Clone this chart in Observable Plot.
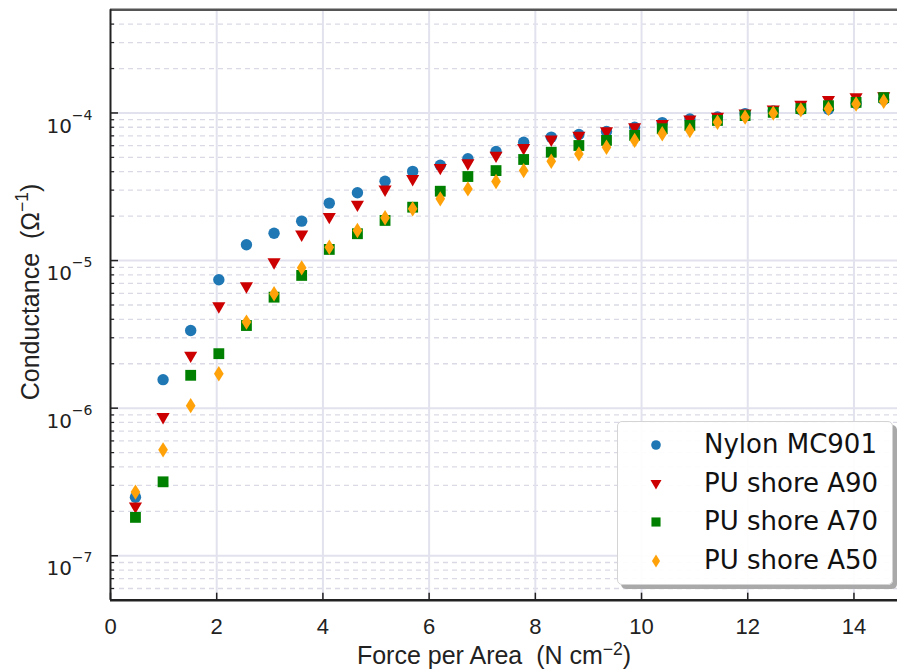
<!DOCTYPE html>
<html><head><meta charset="utf-8">
<script src="https://cdn.jsdelivr.net/npm/d3@7"></script>
<script src="https://cdn.jsdelivr.net/npm/@observablehq/plot@0.6"></script>
<style>
body{margin:0;background:#fff;}
#wrap{position:relative;width:897px;height:672px;overflow:hidden;}
.legend{position:absolute;left:617px;top:421px;width:276px;height:164px;box-sizing:border-box;background:rgba(255,255,255,0.92);border:1px solid #d4d4d4;border-radius:5px;box-shadow:4px 4px 0 #a9a9a9;font-family:"DejaVu Sans";font-size:26px;color:#111;}
.legend .row{position:absolute;left:0;height:40px;width:100%;}
.legend .row svg{position:absolute;left:26px;top:8px;}
.legend .row span{position:absolute;left:86px;top:4px;line-height:30px;white-space:pre;}
</style></head><body><div id="wrap"></div>
<script>
// ---- data ----
const force = [0.47, 0.99, 1.51, 2.04, 2.56, 3.08, 3.60, 4.12, 4.65, 5.17, 5.69, 6.21, 6.73, 7.26, 7.78, 8.30, 8.82, 9.34, 9.87, 10.39, 10.91, 11.43, 11.95, 12.48, 13.00, 13.52, 14.04, 14.56];
const nylon = [2.49e-7, 1.56e-6, 3.36e-6, 7.41e-6, 1.28e-5, 1.53e-5, 1.85e-5, 2.45e-5, 2.88e-5, 3.45e-5, 4.02e-5, 4.43e-5, 4.9e-5, 5.48e-5, 6.34e-5, 6.86e-5, 7.15e-5, 7.5e-5, 8.0e-5, 8.6e-5, 9.1e-5, 9.4e-5, 9.9e-5, 1.03e-4, 1.05e-4, 1.06e-4, 1.16e-4, 1.23e-4];
const pu90 = [2.13e-7, 8.6e-7, 2.24e-6, 4.83e-6, 6.6e-6, 9.6e-6, 1.48e-5, 1.95e-5, 2.36e-5, 2.99e-5, 3.52e-5, 4.19e-5, 4.5e-5, 5.07e-5, 5.71e-5, 6.52e-5, 6.93e-5, 7.41e-5, 7.9e-5, 8.3e-5, 8.9e-5, 9.3e-5, 9.8e-5, 1.04e-4, 1.12e-4, 1.21e-4, 1.26e-4, 1.28e-4];
const pu70 = [1.82e-7, 3.17e-7, 1.67e-6, 2.34e-6, 3.63e-6, 5.65e-6, 7.93e-6, 1.19e-5, 1.52e-5, 1.87e-5, 2.30e-5, 2.95e-5, 3.71e-5, 4.07e-5, 4.84e-5, 5.42e-5, 6.02e-5, 6.52e-5, 7.05e-5, 7.82e-5, 8.23e-5, 8.9e-5, 9.6e-5, 1.01e-4, 1.07e-4, 1.12e-4, 1.18e-4, 1.27e-4];
const pu50 = [2.70e-7, 5.22e-7, 1.04e-6, 1.71e-6, 3.83e-6, 5.96e-6, 8.93e-6, 1.23e-5, 1.60e-5, 1.95e-5, 2.24e-5, 2.62e-5, 3.06e-5, 3.43e-5, 4.07e-5, 4.71e-5, 5.28e-5, 5.86e-5, 6.52e-5, 7.23e-5, 7.6e-5, 8.66e-5, 9.37e-5, 9.97e-5, 1.05e-4, 1.07e-4, 1.15e-4, 1.2e-4];
const seriesNames = ["Nylon MC901", "PU shore A90", "PU shore A70", "PU shore A50"];
const seriesColors = ["#1f77b4", "#cc0000", "#008000", "#ffa20a"];
const xTicks = [0, 2, 4, 6, 8, 10, 12, 14];
const yMajor = [1e-7, 1e-6, 1e-5, 1e-4];
const yDomain = [5e-8, 5e-4];
const xDomain = [0, 14.82];
const xLabel = ["Force per Area  (N cm", "−2", ")"];
const yLabel = ["Conductance  (Ω", "−1", ")"];

// minor log ticks (2..9 × decade) inside the domain
const yMinor = [];
for (let e = -8; e <= -4; e++) for (let m = 2; m <= 9; m++) {
  const v = m * Math.pow(10, e);
  if (v > yDomain[0] * 1.001 && v < yDomain[1] * 0.999) yMinor.push(v);
}

// matplotlib-like marker shapes
const triDown = {draw(ctx, size) { const s = Math.sqrt(size / Math.PI); ctx.moveTo(-1.15 * s, -0.85 * s); ctx.lineTo(1.15 * s, -0.85 * s); ctx.lineTo(0, 1.15 * s); ctx.closePath(); }};
const squareSym = {draw(ctx, size) { const s = Math.sqrt(size / Math.PI) * 0.95; ctx.rect(-s, -s, 2 * s, 2 * s); }};
const thinDiamond = {draw(ctx, size) { const s = Math.sqrt(size / Math.PI); ctx.moveTo(0, -1.35 * s); ctx.lineTo(0.85 * s, 0); ctx.lineTo(0, 1.35 * s); ctx.lineTo(-0.85 * s, 0); ctx.closePath(); }};
const circleSym = {draw(ctx, size) { const s = Math.sqrt(size / Math.PI); ctx.moveTo(s, 0); ctx.arc(0, 0, s, 0, 2 * Math.PI); }};
const seriesSymbols = [circleSym, triDown, squareSym, thinDiamond];
const seriesValues = [nylon, pu90, pu70, pu50];

const dotMarks = seriesValues.map((vals, k) =>
  Plot.dot(force.map((f, i) => ({x: f, y: vals[i], s: seriesNames[k]})),
    {x: "x", y: "y", r: 5.7, fill: seriesColors[k], stroke: "none", symbol: seriesSymbols[k]}));

const axisFont = "Liberation Sans, Arial, sans-serif";
const plot = Plot.plot({
  width: 897, height: 672,
  marginLeft: 110, marginRight: 0, marginTop: 9.3, marginBottom: 72.3,
  x: {domain: xDomain, label: null},
  y: {type: "log", domain: yDomain, label: null},
  style: {background: "transparent", color: "#222", overflow: "visible"},
  marks: [
    Plot.gridY(yMinor, {stroke: "#dadae6", strokeOpacity: 1, strokeWidth: 1.3, strokeDasharray: "5,4"}),
    Plot.gridY(yMajor, {stroke: "#e2e2ee", strokeOpacity: 1, strokeWidth: 2}),
    Plot.gridX(xTicks.slice(1), {stroke: "#e2e2ee", strokeOpacity: 1, strokeWidth: 2}),
    ...dotMarks,
    Plot.ruleY([yDomain[1]], {stroke: "#555", strokeWidth: 2.5}),
    Plot.ruleY([yDomain[0]], {stroke: "#222", strokeWidth: 2.5}),
    Plot.ruleX([xDomain[0]], {stroke: "#222", strokeWidth: 2}),
    Plot.axisX(xTicks, {tickSize: -7, tickFormat: () => "", stroke: "#222", strokeWidth: 1.5, label: null}),
    Plot.axisX(xTicks, {tickSize: 0, tickPadding: 18, fontSize: 22, fontFamily: axisFont, label: null}),
    Plot.axisY(yMajor, {tickSize: -8, tickFormat: () => "", stroke: "#222", strokeWidth: 1.5, label: null}),
    Plot.axisY(yMinor, {tickSize: -4, tickFormat: () => "", stroke: "#222", strokeWidth: 1.2, label: null}),
    Plot.axisY(yMajor, {tickSize: 0, tickPadding: 18, fontSize: 20, fontFamily: "DejaVu Sans", label: null,
      tickFormat: d => "10^" + Math.round(Math.log10(d))}),
    Plot.text([xLabel[0]], {text: d => d, frameAnchor: "bottom", textAnchor: "middle", lineAnchor: "middle", dx: -10, dy: 56, fontSize: 25, fontFamily: axisFont, fill: "#222"}),
    Plot.text([yLabel[0]], {text: d => d, frameAnchor: "left", textAnchor: "middle", lineAnchor: "middle", rotate: -90, dx: -80, dy: -13, fontSize: 25, fontFamily: axisFont, fill: "#222"})
  ]
});

const sel = d3.select(plot);
// superscripts on the y tick labels
sel.selectAll('g[aria-label="y-axis tick label"] text').each(function () {
  const t = d3.select(this);
  const s = t.text();
  if (!s.includes("^")) return;
  const [b, e] = s.split("^");
  t.text(b).attr("dy", "0.66em");
  t.append("tspan").attr("dy", -13).attr("font-size", "0.7em").text(e.replace("-", "−"));
});
// superscripts in the axis titles (found by their text)
function supLabel(parts, raise) {
  sel.selectAll("text").filter(function () { return this.textContent === parts[0]; }).each(function () {
    const t = d3.select(this);
    t.style("white-space", "pre").text(parts[0]);
    t.append("tspan").attr("dy", -raise).attr("font-size", "0.7em").text(parts[1]);
    t.append("tspan").attr("dy", raise).text(parts[2]);
  });
}
supLabel(xLabel, 9);
supLabel(yLabel, 11);

const wrap = document.getElementById("wrap");
wrap.appendChild(plot);

// legend
const legend = document.createElement("div");
legend.className = "legend";
const rowTops = [3, 42, 80, 119];
seriesNames.forEach((name, k) => {
  const row = document.createElement("div");
  row.className = "row";
  row.style.top = rowTops[k] + "px";
  const svgEl = d3.create("svg").attr("width", 24).attr("height", 24);
  svgEl.append("path").attr("transform", "translate(12,12)")
    .attr("d", d3.symbol().type(seriesSymbols[k]).size(Math.PI * 4.8 * 4.8)())
    .attr("fill", seriesColors[k]);
  row.appendChild(svgEl.node());
  const sp = document.createElement("span");
  sp.textContent = name;
  row.appendChild(sp);
  legend.appendChild(row);
});
wrap.appendChild(legend);
</script>
</body></html>
